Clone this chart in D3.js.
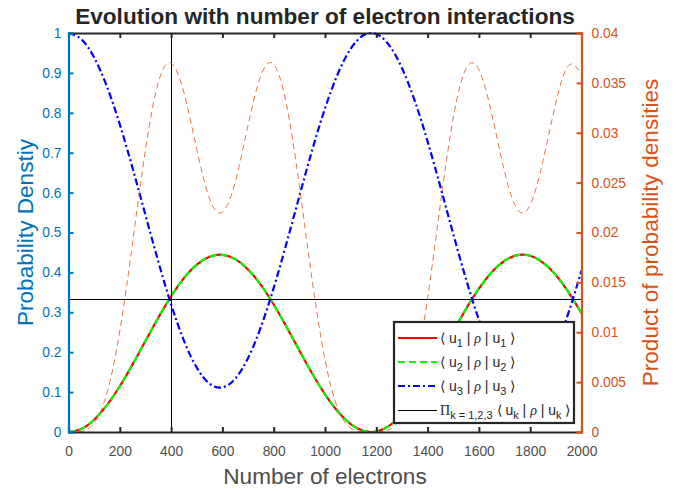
<!DOCTYPE html>
<html>
<head>
<meta charset="utf-8">
<script src="https://cdn.jsdelivr.net/npm/d3@7"></script>
<style>
  html, body { margin: 0; padding: 0; background: #fff; }
  svg { display: block; font-family: "Liberation Sans", Arial, Helvetica, sans-serif; }
</style>
</head>
<body>
<svg id="chart" width="676" height="491"></svg>
<script>
// Number of electron interactions (sample points)
const electrons = [0, 50, 100, 150, 200, 250, 300, 350, 400, 450, 500, 550, 600, 650, 700, 750, 800, 850, 900, 950,
  1000, 1050, 1100, 1150, 1200, 1250, 1300, 1350, 1400, 1450, 1500, 1550, 1600, 1650, 1700, 1750, 1800, 1850, 1900, 1950, 2000];

// <u1|rho|u1>
const u1 = [0, 0.0078, 0.0308, 0.0672, 0.1146, 0.1695, 0.2281, 0.2863, 0.3401, 0.3855, 0.4194, 0.4394, 0.4441, 0.4332, 0.4074,
  0.3685, 0.3195, 0.2634, 0.2044, 0.1468, 0.0945, 0.0512, 0.0199, 0.0028, 0.0013, 0.0153, 0.0439, 0.0850, 0.1358, 0.1928,
  0.2519, 0.3086, 0.3594, 0.4006, 0.4292, 0.4432, 0.4416, 0.4246, 0.3933, 0.3499, 0.2977];

// <u2|rho|u2>
const u2 = [0, 0.0078, 0.0308, 0.0672, 0.1146, 0.1695, 0.2281, 0.2863, 0.3401, 0.3855, 0.4194, 0.4394, 0.4441, 0.4332, 0.4074,
  0.3685, 0.3195, 0.2634, 0.2044, 0.1468, 0.0945, 0.0512, 0.0199, 0.0028, 0.0013, 0.0153, 0.0439, 0.0850, 0.1358, 0.1928,
  0.2519, 0.3086, 0.3594, 0.4006, 0.4292, 0.4432, 0.4416, 0.4246, 0.3933, 0.3499, 0.2977];

// <u3|rho|u3>
const u3 = [1, 0.9843, 0.9385, 0.8656, 0.7709, 0.6611, 0.5438, 0.4274, 0.3197, 0.2290, 0.1612, 0.1211, 0.1117, 0.1335, 0.1852,
  0.2630, 0.3611, 0.4732, 0.5911, 0.7064, 0.8110, 0.8977, 0.9603, 0.9943, 0.9975, 0.9695, 0.9123, 0.8300, 0.7284, 0.6143,
  0.4963, 0.3827, 0.2812, 0.1989, 0.1416, 0.1136, 0.1168, 0.1508, 0.2134, 0.3002, 0.4046];

// Product of the three probability densities (right axis)
const product = [0, 0.00006, 0.00089, 0.00391, 0.01012, 0.0190, 0.02829, 0.03503, 0.03698, 0.03403, 0.02836, 0.02338, 0.02203,
  0.02506, 0.03074, 0.03572, 0.03686, 0.03283, 0.02470, 0.01522, 0.00724, 0.00235, 0.00038, 0.00001, 0.0, 0.00023, 0.00176,
  0.00600, 0.01344, 0.02284, 0.03149, 0.03645, 0.03632, 0.03192, 0.02609, 0.02231, 0.02278, 0.02719, 0.03301, 0.03675, 0.03586];

// Reference cross-hair: equal populations point
const crossX = 400;
const crossY = 1 / 3;

// Tick values
const xTicks = [0, 200, 400, 600, 800, 1000, 1200, 1400, 1600, 1800, 2000];
const yLeftTicks = [0, 0.1, 0.2, 0.3, 0.4, 0.5, 0.6, 0.7, 0.8, 0.9, 1];
const yRightTicks = [0, 0.005, 0.01, 0.015, 0.02, 0.025, 0.03, 0.035, 0.04];

const titleText = "Evolution with number of electron interactions";
const xLabel = "Number of electrons";
const yLeftLabel = "Probability Denstiy";
const yRightLabel = "Product of probability densities";

const BLUE = "#0072BD", ORANGE = "#D95319", DARK = "#262626", GREY = "#4d4d4d";
const TICK_FS = 13.8, LABEL_FS = 22.6;

const svg = d3.select("#chart");
const L = 68.5, R = 581.5, T = 33, B = 432;

const x = d3.scaleLinear().domain([0, 2000]).range([L, R]);
const yL = d3.scaleLinear().domain([0, 1]).range([B, T]);
const yR = d3.scaleLinear().domain([0, 0.04]).range([B, T]);

svg.append("defs").append("clipPath").attr("id", "plotclip")
  .append("rect").attr("x", L).attr("y", T - 2).attr("width", R - L).attr("height", B - T + 2);

const plot = svg.append("g").attr("clip-path", "url(#plotclip)");

const curve = d3.curveNatural;
const lineL = arr => d3.line().x((d, i) => x(electrons[i])).y(d => yL(d)).curve(curve)(arr);
const lineR = arr => d3.line().x((d, i) => x(electrons[i])).y(d => yR(d)).curve(curve)(arr);

// Series
plot.append("path").attr("d", lineL(u1)).attr("fill", "none").attr("stroke", "#FF0000").attr("stroke-width", 2.2);
plot.append("path").attr("d", lineL(u2)).attr("fill", "none").attr("stroke", "#00FF00").attr("stroke-width", 2.2)
  .attr("stroke-dasharray", "7,4");
plot.append("path").attr("d", lineL(u3)).attr("fill", "none").attr("stroke", "#0000FF").attr("stroke-width", 2.2)
  .attr("stroke-dasharray", "7,3,2,3");

// Cross-hair lines (snapped to pixel centres)
const snap = v => Math.round(v) + 0.5;
plot.append("line").attr("x1", snap(x(crossX))).attr("x2", snap(x(crossX))).attr("y1", T).attr("y2", B)
  .attr("stroke", "#000").attr("stroke-width", 1);
plot.append("line").attr("x1", L).attr("x2", R).attr("y1", snap(yL(crossY))).attr("y2", snap(yL(crossY)))
  .attr("stroke", "#000").attr("stroke-width", 1);

// Product curve on right axis
plot.append("path").attr("d", lineR(product)).attr("fill", "none").attr("stroke", ORANGE).attr("stroke-width", 0.8)
  .attr("stroke-dasharray", "6,4");

// Axes
const tickLen = 5;
const gx = svg.append("g").attr("transform", `translate(0,${B})`)
  .call(d3.axisBottom(x).tickValues(xTicks).tickSize(-tickLen).tickPadding(14).tickFormat(d3.format("d")));
gx.select(".domain").attr("stroke", DARK).attr("stroke-width", 2.2);
gx.selectAll(".tick line").attr("stroke", DARK).attr("stroke-width", 2);
gx.selectAll("text").attr("fill", GREY).attr("font-size", TICK_FS);

const gxt = svg.append("g").attr("transform", `translate(0,${T})`)
  .call(d3.axisTop(x).tickValues(xTicks).tickSize(-tickLen).tickFormat(""));
gxt.select(".domain").attr("stroke", DARK).attr("stroke-width", 2.2);
gxt.selectAll(".tick line").attr("stroke", DARK).attr("stroke-width", 2);

const gyl = svg.append("g").attr("transform", `translate(${L},0)`)
  .call(d3.axisLeft(yL).tickValues(yLeftTicks).tickSize(-tickLen).tickPadding(7).tickFormat(d => String(+d.toFixed(1))));
gyl.select(".domain").attr("stroke", BLUE).attr("stroke-width", 2.2);
gyl.selectAll(".tick line").attr("stroke", BLUE).attr("stroke-width", 2);
gyl.selectAll("text").attr("fill", BLUE).attr("font-size", TICK_FS);

const gyr = svg.append("g").attr("transform", `translate(${R},0)`)
  .call(d3.axisRight(yR).tickValues(yRightTicks).tickSize(-tickLen).tickPadding(10).tickFormat(d => String(+d.toFixed(3))));
gyr.select(".domain").attr("stroke", ORANGE).attr("stroke-width", 2.2);
gyr.selectAll(".tick line").attr("stroke", ORANGE).attr("stroke-width", 2);
gyr.selectAll("text").attr("fill", ORANGE).attr("font-size", TICK_FS);

// Titles and labels
svg.append("text").attr("x", (L + R) / 2).attr("y", 24).attr("text-anchor", "middle")
  .attr("font-weight", "bold").attr("font-size", LABEL_FS).attr("fill", DARK).text(titleText);
svg.append("text").attr("x", (L + R) / 2).attr("y", 484).attr("text-anchor", "middle")
  .attr("font-size", LABEL_FS).attr("fill", GREY).text(xLabel);
svg.append("text").attr("transform", `translate(33,${(T + B) / 2}) rotate(-90)`).attr("text-anchor", "middle")
  .attr("font-size", LABEL_FS).attr("fill", BLUE).text(yLeftLabel);
svg.append("text").attr("transform", `translate(658,${(T + B) / 2}) rotate(-90)`).attr("text-anchor", "middle")
  .attr("font-size", LABEL_FS).attr("fill", ORANGE).text(yRightLabel);

// Legend
const leg = svg.append("g");
const lx = 394, ly = 322, lw = 180, lh = 101;
leg.append("rect").attr("x", lx).attr("y", ly).attr("width", lw).attr("height", lh)
  .attr("fill", "#fff").attr("stroke", DARK).attr("stroke-width", 2.2);

const legendItems = [
  { stroke: "#FF0000", dash: null, w: 2.2, sub: "1" },
  { stroke: "#00FF00", dash: "7,4", w: 2.2, sub: "2" },
  { stroke: "#0000FF", dash: "7,3,2,3", w: 2.2, sub: "3" },
  { stroke: "#000000", dash: null, w: 1, sub: "k", prod: true }
];
const rowY = [338, 362, 386, 410];
legendItems.forEach((it, i) => {
  const yy = it.prod ? rowY[i] + 0.5 : rowY[i];
  const ln = leg.append("line").attr("x1", lx + 4).attr("x2", lx + 43).attr("y1", yy).attr("y2", yy)
    .attr("stroke", it.stroke).attr("stroke-width", it.w);
  if (it.dash) ln.attr("stroke-dasharray", it.dash);
  const t = leg.append("text").attr("x", it.prod ? lx + 46 : lx + 46).attr("y", rowY[i] + 5)
    .attr("font-size", 14).attr("fill", DARK);
  if (it.prod) {
    t.append("tspan").attr("font-family", "'Liberation Serif', 'Times New Roman', serif").text("Π");
    t.append("tspan").attr("font-size", 11).attr("dy", 4).text("k = 1,2,3");
    t.append("tspan").attr("dy", -4).text(" \u27E8 u");
  } else {
    t.append("tspan").text("\u27E8 u");
  }
  t.append("tspan").attr("font-size", 11).attr("dy", 4).text(it.sub);
  t.append("tspan").attr("dy", -4).text(" | ");
  t.append("tspan").attr("font-family", "'Liberation Serif', 'Times New Roman', serif").attr("font-style", "italic").text("ρ");
  t.append("tspan").text(" | u");
  t.append("tspan").attr("font-size", 11).attr("dy", 4).text(it.sub);
  t.append("tspan").attr("dy", -4).text(" \u27E9");
});
</script>
</body>
</html>
